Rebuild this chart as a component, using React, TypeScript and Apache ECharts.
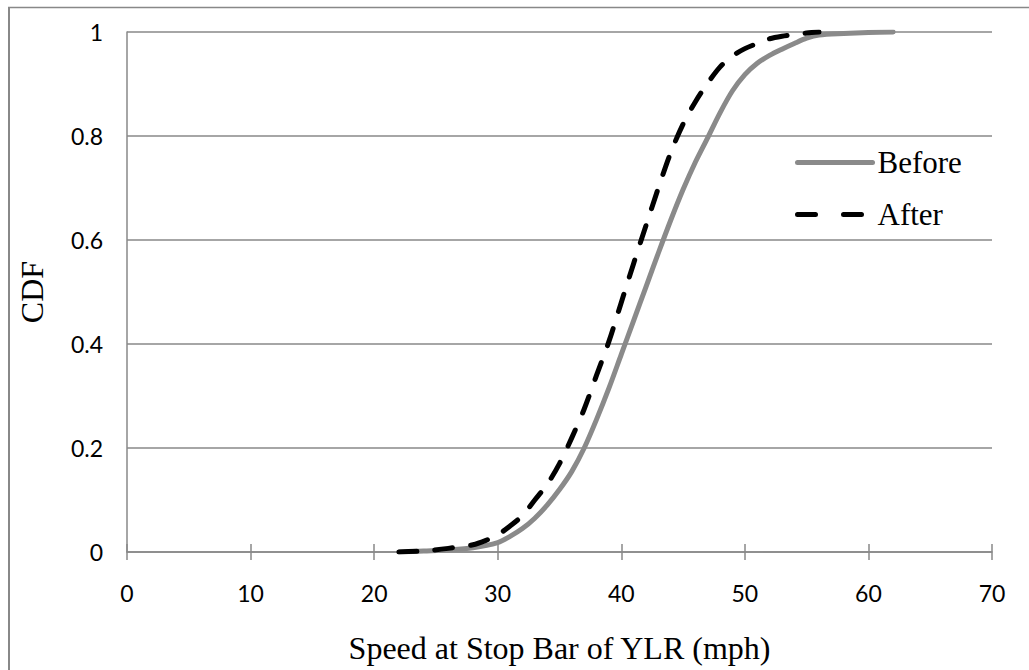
import React, { useEffect, useRef } from "react";
import * as echarts from "echarts";

const xTicks = [0, 10, 20, 30, 40, 50, 60, 70];
const yTicks = [0, 0.2, 0.4, 0.6, 0.8, 1];

const beforeSpeed = [22, 24, 26, 28, 30, 31, 32, 33, 34, 35, 36, 37, 38, 39, 40, 41, 42, 43, 44, 45, 46, 47, 48, 49, 50, 51, 52, 53, 54, 55, 56, 58, 60, 62];
const beforeCdf = [0, 0.002, 0.004, 0.008, 0.018, 0.03, 0.045, 0.065, 0.09, 0.12, 0.155, 0.2, 0.255, 0.315, 0.38, 0.445, 0.51, 0.575, 0.638, 0.697, 0.75, 0.797, 0.845, 0.887, 0.918, 0.94, 0.955, 0.967, 0.978, 0.988, 0.994, 0.997, 0.999, 1.0];

const afterSpeed = [22, 24, 26, 28, 29, 30, 31, 32, 33, 34, 35, 36, 37, 38, 39, 40, 41, 42, 43, 44, 45, 46, 47, 48, 49, 50, 51, 52, 53, 54, 55, 56];
const afterCdf = [0, 0.002, 0.007, 0.014, 0.022, 0.033, 0.05, 0.07, 0.1, 0.13, 0.17, 0.22, 0.275, 0.34, 0.405, 0.48, 0.555, 0.628, 0.7, 0.768, 0.823, 0.866, 0.902, 0.933, 0.954, 0.968, 0.978, 0.987, 0.992, 0.995, 0.998, 1.0];

const gray = "#8a8a8a";
const axisGray = "#888888";

export default function App() {
  const ref = useRef<HTMLDivElement>(null);
  useEffect(() => {
    if (!ref.current) return;
    const chart = echarts.init(ref.current, undefined, { renderer: "svg" });
    const toPairs = (xs: number[], ys: number[]) => xs.map((x, i) => [x, ys[i]]);
    const afterDash = [18, 18];
    chart.setOption({
      animation: false,
      backgroundColor: "#ffffff",
      grid: { left: 127, right: 37, top: 32, bottom: 118, containLabel: false },
      graphic: [
        { type: "line", shape: { x1: 9, y1: 7, x2: 9, y2: 670 }, style: { stroke: axisGray, lineWidth: 2 } },
        { type: "line", shape: { x1: 8, y1: 7.5, x2: 1029, y2: 7.5 }, style: { stroke: axisGray, lineWidth: 1.5 } },
      ],
      legend: {
        orient: "vertical",
        left: 795,
        top: 147,
        padding: 0,
        itemWidth: 75,
        itemHeight: 31,
        itemGap: 21,
        itemStyle: { opacity: 0 },
        textStyle: { fontFamily: "Liberation Serif", fontSize: 31, color: "#000", lineHeight: 31 },
        data: [
          { name: "Before", lineStyle: { width: 5, type: "solid", cap: "round" } },
          { name: "After", lineStyle: { width: 5, type: [18, 28], cap: "round" } },
        ],
      },
      xAxis: [
        {
          type: "value",
          min: 0,
          max: 70,
          interval: 10,
          name: "Speed at Stop Bar of YLR (mph)",
          nameLocation: "middle",
          nameGap: 80,
          nameTextStyle: { fontFamily: "Liberation Serif", fontSize: 32, color: "#000" },
          axisLine: { show: true, onZero: false, lineStyle: { color: axisGray, width: 1.5 } },
          axisTick: { show: true, inside: false, length: 8, lineStyle: { color: axisGray, width: 1.5 } },
          axisLabel: {
            margin: 29,
            fontFamily: "Lato",
            fontSize: 23,
            color: "#000",
            formatter: (v: number) => (xTicks.includes(v) ? String(v) : ""),
          },
          splitLine: { show: false },
        },
        {
          type: "value",
          position: "bottom",
          min: 0,
          max: 70,
          interval: 10,
          axisLine: { show: false },
          axisTick: { show: true, inside: true, length: 8, lineStyle: { color: axisGray, width: 1.5 } },
          axisLabel: { show: false },
          splitLine: { show: false },
        },
      ],
      yAxis: {
        type: "value",
        min: 0,
        max: 1,
        interval: 0.2,
        name: "CDF",
        nameLocation: "middle",
        nameGap: 79,
        nameTextStyle: { fontFamily: "Liberation Serif", fontSize: 32, color: "#000" },
        axisLine: { show: true, lineStyle: { color: axisGray, width: 1.5 } },
        axisTick: { show: false },
        axisLabel: {
          margin: 24,
          fontFamily: "Lato",
          fontSize: 23,
          color: "#000",
          formatter: (v: number) => {
            const t = yTicks.find((y) => Math.abs(y - v) < 1e-6);
            return t === undefined ? "" : String(Number(t.toFixed(1)));
          },
        },
        splitLine: { show: true, lineStyle: { color: axisGray, width: 1.5 } },
      },
      series: [
        {
          name: "Before",
          type: "line",
          data: toPairs(beforeSpeed, beforeCdf),
          smooth: 0.3,
          symbol: "none",
          lineStyle: { color: gray, width: 5, cap: "round", join: "round" },
          itemStyle: { color: gray },
          z: 3,
        },
        {
          name: "After",
          type: "line",
          data: toPairs(afterSpeed, afterCdf),
          smooth: 0.3,
          symbol: "none",
          lineStyle: { color: "#000", width: 5, type: afterDash, cap: "round", join: "round" },
          itemStyle: { color: "#000" },
          z: 4,
        },
      ],
    });
    return () => chart.dispose();
  }, []);
  return (
    <div
      ref={ref}
      style={{ position: "absolute", left: 0, top: 0, width: 1029, height: 670 }}
    />
  );
}
